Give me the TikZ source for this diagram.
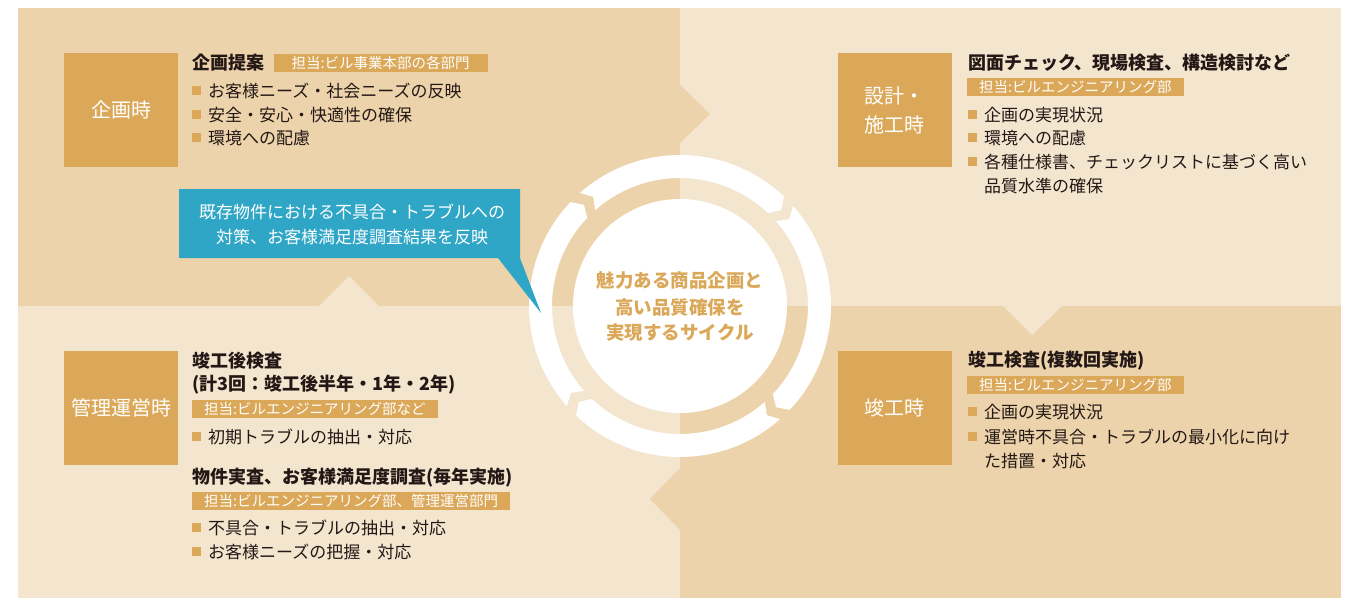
\documentclass[tikz,border=0pt]{standalone}
\usepackage{fontspec}
\setmainfont{Noto Sans CJK JP}
\usetikzlibrary{positioning}
\definecolor{tandark}{HTML}{EDD3AB}
\definecolor{tanlight}{HTML}{F4E5CF}
\definecolor{ochre}{HTML}{DBA859}
\definecolor{calloutblue}{HTML}{2FA6C6}
\definecolor{ink}{HTML}{231815}
\newcommand{\sqb}{\textcolor{ochre}{\rule[2.5pt]{9pt}{9pt}}\hspace{7pt}}

\begin{document}
\begin{tikzpicture}[x=1pt, y=-1pt,
  stage/.style={fill=ochre, text=white, minimum width=114pt, minimum height=114pt, inner sep=0pt, align=center, font=\fontsize{20}{29}\selectfont},
  head/.style={anchor=west, inner sep=0pt, text=ink, font=\bfseries\fontsize{18}{22}\selectfont},
  tag/.style={anchor=west, fill=ochre, text=white, minimum height=18pt, inner xsep=12pt, inner ysep=0pt, font=\fontsize{14.5}{16}\selectfont},
  item/.style={anchor=west, inner sep=0pt, text=ink, font=\fontsize{17}{22}\selectfont},
  mid/.style={text=ochre, inner sep=0pt, font=\bfseries\fontsize{18.5}{22}\selectfont},
  note/.style={text=white, inner sep=0pt, font=\fontsize{17}{22}\selectfont},
]
\useasboundingbox (0,0) rectangle (1351,598);

% quadrants and the arrow notches between them
\fill[tandark] (18,8) rectangle (680,306);
\fill[tanlight] (680,8) rectangle (1341,306);
\fill[tanlight] (18,306) rectangle (680,598);
\fill[tandark] (680,306) rectangle (1341,598);
\fill[tandark] (680,85) -- (710,114) -- (680,143) -- cycle;
\fill[tanlight] (1003,306) -- (1032,335) -- (1062,306) -- cycle;
\fill[tandark] (680,468) -- (650,499) -- (680,530) -- cycle;
\fill[tanlight] (319,306) -- (349,276) -- (379,306) -- cycle;

% cycle ring
\begin{scope}[shift={(680,306)}]
\fill[white] (0,0) circle[radius=107];
\foreach \a in {46,136,226,316}
  \fill[white] (\a+2.5:151) arc[start angle=\a+2.5, end angle=\a+87.5, radius=151]
    -- (\a+90.5:139.5) -- (\a+87.5:128)
    arc[start angle=\a+87.5, end angle=\a+2.5, radius=128]
    -- (\a+5.5:139.5) -- cycle;
\end{scope}
\node[mid] (cyc1) at (680,280) {魅力ある商品企画と};
\node[mid] (cyc2) at (680,307) {高い品質確保を};
\node[mid] (cyc3) at (680,333) {実現するサイクル};

% planning
\node[stage] (planbox) at (121,110) {企画時};
\node[head] (planhead) at (192,63) {企画提案};
\node[tag, minimum width=214pt, right=9pt of planhead] (plantag) {担当:ビル事業本部の各部門};
\node[item] (plan1) at (192,91) {\sqb お客様ニーズ・社会ニーズの反映};
\node[item] (plan2) at (192,115) {\sqb 安全・安心・快適性の確保};
\node[item] (plan3) at (192,138) {\sqb 環境への配慮};

% feedback callout
\fill[calloutblue] (179,189) -- (520,189) -- (520,258) -- (541,313) -- (498,258) -- (179,258) -- cycle;
\node[note] (note1) at (352,212) {既存物件における不具合・トラブルへの};
\node[note] (note2) at (352,237) {対策、お客様満足度調査結果を反映};

% design and construction
\node[stage] (buildbox) at (894.5,110) {設計・\\施工時};
\node[head] (buildhead) at (968,63) {図面チェック、現場検査、構造検討など};
\node[tag] (buildtag) at (967,87) {担当:ビルエンジニアリング部};
\node[item] (build1) at (968,115) {\sqb 企画の実現状況};
\node[item] (build2) at (968,138) {\sqb 環境への配慮};
\node[item] (build3) at (968,162) {\sqb 各種仕様書、チェックリストに基づく高い};
\node[item] (build3b) at (984,186) {品質水準の確保};

% completion
\node[stage] (donebox) at (894.5,407.5) {竣工時};
\node[head] (donehead) at (968,361) {竣工検査(複数回実施)};
\node[tag] (donetag) at (967,385) {担当:ビルエンジニアリング部};
\node[item] (done1) at (968,412) {\sqb 企画の実現状況};
\node[item] (done2) at (968,437) {\sqb 運営時不具合・トラブルの最小化に向け};
\node[item] (done2b) at (984,461) {た措置・対応};

% operation
\node[stage] (runbox) at (121,407.5) {管理運営時};
\node[head] (runhead) at (192,361) {竣工後検査};
\node[head] (runheadb) at (192,385) {(計3回：竣工後半年・1年・2年)};
\node[tag] (runtag) at (192,409) {担当:ビルエンジニアリング部など};
\node[item] (run1) at (192,437) {\sqb 初期トラブルの抽出・対応};
\node[head] (surveyhead) at (192,478) {物件実査、お客様満足度調査(毎年実施)};
\node[tag] (surveytag) at (192,500.5) {担当:ビルエンジニアリング部、管理運営部門};
\node[item] (survey1) at (192,528) {\sqb 不具合・トラブルの抽出・対応};
\node[item] (survey2) at (192,552) {\sqb お客様ニーズの把握・対応};
\end{tikzpicture}
\end{document}
